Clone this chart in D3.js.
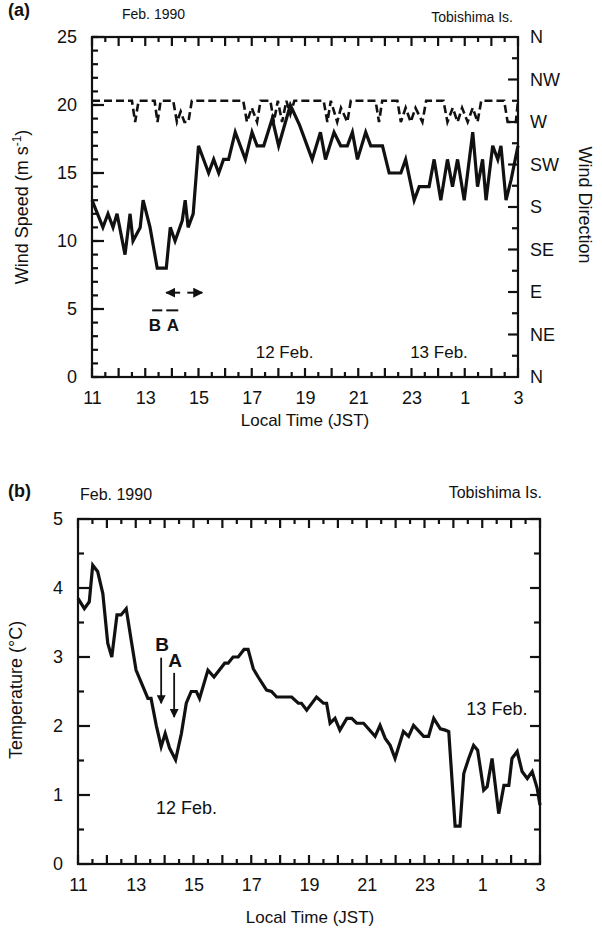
<!DOCTYPE html>
<meta charset="utf-8">

<!-- Load d3.js -->
<script src="https://d3js.org/d3.v7.min.js"></script>

<style>
  body { margin: 0; background: #fff; }
  svg text { font-family: "Liberation Sans", Arial, Helvetica, sans-serif; fill: #111; }
</style>

<div id="my_dataviz"></div>

<script>

    // ---- data (hours counted from 0 JST 12 Feb) ----

    // (a) wind speed, m/s
    var speedHours = [11.00, 11.41, 11.60, 11.79, 11.94, 12.24, 12.43, 12.54, 12.81, 12.92,
        13.18, 13.45, 13.79, 13.94, 14.12, 14.39, 14.50, 14.61, 14.80, 15.00,
        15.38, 15.57, 15.76, 15.94, 16.13, 16.38, 16.76, 17.01, 17.20, 17.45,
        17.77, 18.01, 18.45, 18.80, 19.27, 19.58, 19.77, 20.09, 20.34, 20.59,
        20.78, 20.97, 21.28, 21.47, 21.91, 22.16, 22.60, 22.78, 23.10, 23.29,
        23.66, 23.85, 24.10, 24.35, 24.54, 24.73, 24.98, 25.30, 25.48, 25.67,
        25.80, 26.05, 26.24, 26.36, 26.55, 26.74, 27.00]
    var speedValues = [13, 11, 12, 11, 12, 9, 12, 10, 11, 13,
        11, 8, 8, 11, 10, 11.5, 13, 11, 12, 17,
        15, 16, 15, 16, 16, 18, 16, 18, 17, 17,
        19, 17, 20, 18.5, 16, 18, 16, 18, 17, 17,
        18, 16, 18, 17, 17, 15, 15, 16, 13, 14,
        14, 16, 13, 16, 14, 16, 13, 18, 14, 16,
        13, 17, 16, 17, 13, 14.5, 17]

    // (a) wind direction, degrees (dashed line)
    var dirHours = [11.0, 12.5, 12.62, 12.75, 13.35, 13.46, 13.58, 14.05, 14.19, 14.33,
        14.47, 14.62, 14.75, 16.68, 16.82, 17.0, 17.2, 17.33, 17.7, 17.83,
        17.98, 18.14, 18.3, 18.45, 18.6, 19.7, 19.84, 19.97, 20.21, 20.35,
        20.59, 20.72, 21.65, 21.78, 21.9, 22.47, 22.6, 22.78, 22.97, 23.15,
        23.41, 23.55, 24.2, 24.35, 24.55, 24.73, 24.9, 25.11, 25.3, 25.48,
        25.62, 26.48, 26.61, 26.92, 27.0]
    var dirValues = [292.5, 292.5, 270, 292.5, 292.5, 270, 292.5, 292.5, 270, 281,
        270, 270, 292.5, 292.5, 270, 285, 270, 292.5, 292.5, 270,
        292.5, 270, 292.5, 278, 292.5, 292.5, 270, 292.5, 270, 285,
        270, 292.5, 292.5, 270, 292.5, 292.5, 270, 285, 270, 285,
        270, 292.5, 292.5, 270, 285, 270, 285, 270, 285, 270,
        292.5, 292.5, 270, 270, 292.5]

    // (b) air temperature, deg C
    var tempHours = [11.00, 11.22, 11.39, 11.51, 11.68, 11.86, 12.03, 12.17, 12.35, 12.49,
        12.67, 12.84, 13.01, 13.25, 13.42, 13.53, 13.71, 13.88, 14.02, 14.17,
        14.38, 14.58, 14.75, 14.92, 15.10, 15.21, 15.50, 15.71, 16.08, 16.20,
        16.37, 16.55, 16.75, 16.89, 17.07, 17.24, 17.53, 17.70, 17.88, 18.40,
        18.63, 18.74, 18.92, 19.26, 19.50, 19.61, 19.73, 19.90, 20.07, 20.31,
        20.48, 20.65, 20.89, 21.29, 21.46, 21.64, 21.81, 21.98, 22.27, 22.45,
        22.62, 22.97, 23.14, 23.32, 23.55, 23.72, 23.84, 24.06, 24.23, 24.36,
        24.53, 24.70, 24.84, 25.05, 25.17, 25.34, 25.57, 25.75, 25.92, 26.03,
        26.21, 26.38, 26.56, 26.73, 26.90, 27.00]
    var tempValues = [3.85, 3.70, 3.80, 4.33, 4.24, 3.92, 3.20, 3.00, 3.61, 3.61,
        3.70, 3.25, 2.81, 2.57, 2.40, 2.40, 2.01, 1.70, 1.89, 1.68,
        1.51, 1.89, 2.33, 2.50, 2.50, 2.40, 2.81, 2.71, 2.91, 2.91,
        3.00, 3.00, 3.11, 3.11, 2.83, 2.71, 2.52, 2.50, 2.42, 2.42,
        2.33, 2.33, 2.23, 2.42, 2.33, 2.33, 2.04, 2.11, 1.94, 2.11,
        2.11, 2.04, 2.04, 1.85, 2.01, 1.82, 1.72, 1.53, 1.92, 1.85,
        2.01, 1.85, 1.85, 2.11, 1.96, 1.94, 1.92, 0.55, 0.55, 1.31,
        1.53, 1.72, 1.65, 1.07, 1.12, 1.53, 0.73, 1.14, 1.14, 1.53,
        1.63, 1.34, 1.24, 1.34, 1.10, 0.85]

    // tick labels
    var hourTicks = [11, 13, 15, 17, 19, 21, 23, 25, 27]
    var speedTicks = [0, 5, 10, 15, 20, 25]
    var dirTicks = [0, 45, 90, 135, 180, 225, 270, 315, 360]
    var dirLabels = ["N", "NE", "E", "SE", "S", "SW", "W", "NW", "N"]
    var tempTicks = [0, 1, 2, 3, 4, 5]

    // ---- layout ----
    var W = 602, H = 929
    var boxA = { left: 92, right: 518, top: 37, bottom: 377 }
    var boxB = { left: 78, right: 540, top: 519, bottom: 864 }

    var svg = d3.select("#my_dataviz")
        .append("svg")
        .attr("width", W)
        .attr("height", H)

    // labels only come from d3 axes; the tick marks are drawn by hand (inward)
    function axisLabels(tx, ty, axis) {
        var g = svg.append("g")
            .attr("transform", "translate(" + tx + "," + ty + ")")
            .call(axis)
        g.select(".domain").remove()
        g.selectAll(".tick line").remove()
        g.selectAll(".tick text").attr("font-size", 18).attr("fill", "#111")
        return g
    }

    // side: "bottom" | "top" | "left" | "right"
    function tickMarks(box, side, scale, values, len) {
        var horiz = side == "bottom" || side == "top"
        var base = box[side]
        var dir = (side == "bottom" || side == "right") ? -1 : 1
        svg.append("g").selectAll("line")
            .data(values)
            .enter()
            .append("line")
            .attr("x1", function (d) { return horiz ? scale(d) : base })
            .attr("x2", function (d) { return horiz ? scale(d) : base + dir * len })
            .attr("y1", function (d) { return horiz ? base : scale(d) })
            .attr("y2", function (d) { return horiz ? base + dir * len : scale(d) })
            .attr("stroke", "#111")
            .attr("stroke-width", 2.2)
    }

    function frame(box, x, y, yMinor, yMajor, yFmt) {
        var hours = d3.range(11, 27.01, 1)
        var halves = d3.range(11.5, 27, 1)

        tickMarks(box, "bottom", x, halves, 5)
        tickMarks(box, "bottom", x, hours, 9)
        tickMarks(box, "top", x, halves, 5)
        tickMarks(box, "top", x, hours, 9)
        tickMarks(box, "left", y, yMinor, 6)
        tickMarks(box, "left", y, yMajor, 12)

        axisLabels(0, box.bottom, d3.axisBottom(x).tickValues(hourTicks).tickSize(0).tickPadding(14)
            .tickFormat(function (h) { return h % 24 }))
        axisLabels(box.left, 0, d3.axisLeft(y).tickValues(yMajor).tickSize(0).tickPadding(15).tickFormat(yFmt))

        svg.append("rect")
            .attr("x", box.left).attr("y", box.top)
            .attr("width", box.right - box.left).attr("height", box.bottom - box.top)
            .attr("fill", "none").attr("stroke", "#111").attr("stroke-width", 2.2)
    }

    function label(x, y, txt, size, opts) {
        opts = opts || {}
        var t = svg.append("text")
            .attr("x", x).attr("y", y)
            .attr("font-size", size)
            .attr("text-anchor", opts.anchor || "start")
            .attr("font-weight", opts.bold ? "bold" : "normal")
            .text(txt)
        if (opts.rotate) t.attr("transform", "rotate(" + opts.rotate + "," + x + "," + y + ")")
        return t
    }

    svg.append("defs").append("marker")
        .attr("id", "head").attr("viewBox", "0 0 10 10")
        .attr("refX", 9).attr("refY", 5)
        .attr("markerWidth", 5).attr("markerHeight", 5)
        .attr("orient", "auto-start-reverse")
        .append("path").attr("d", "M0,0 L10,5 L0,10 z").attr("fill", "#111")

    // ================= panel (a) =================
    var xA = d3.scaleLinear().domain([11, 27]).range([boxA.left, boxA.right])
    var yA = d3.scaleLinear().domain([0, 25]).range([boxA.bottom, boxA.top])
    var dA = d3.scaleLinear().domain([0, 360]).range([boxA.bottom, boxA.top])

    frame(boxA, xA, yA, d3.range(0, 25.01, 1), speedTicks, d3.format("d"))

    // right axis = wind direction
    tickMarks(boxA, "right", dA, d3.range(22.5, 360, 45), 6)
    tickMarks(boxA, "right", dA, dirTicks.slice(1, -1), 10)
    axisLabels(boxA.right, 0, d3.axisRight(dA).tickValues(dirTicks).tickSize(0).tickPadding(12)
        .tickFormat(function (d, i) { return dirLabels[i] }))

    // wind direction (dashed)
    svg.append("path")
        .datum(d3.zip(dirHours, dirValues))
        .attr("fill", "none")
        .attr("stroke", "#111")
        .attr("stroke-width", 2.6)
        .attr("stroke-dasharray", "8,4")
        .attr("d", d3.line().x(function (d) { return xA(d[0]) }).y(function (d) { return dA(d[1]) }))

    // wind speed (solid)
    svg.append("path")
        .datum(d3.zip(speedHours, speedValues))
        .attr("fill", "none")
        .attr("stroke", "#111")
        .attr("stroke-width", 3.2)
        .attr("d", d3.line().x(function (d) { return xA(d[0]) }).y(function (d) { return yA(d[1]) }))

    // B / A periods
    var markB = [13.26, 13.64], markA = [13.79, 14.24]
    ;[markB, markA].forEach(function (m) {
        svg.append("line")
            .attr("x1", xA(m[0])).attr("x2", xA(m[1]))
            .attr("y1", yA(4.9)).attr("y2", yA(4.9))
            .attr("stroke", "#111").attr("stroke-width", 2)
    })
    label(xA(13.36), yA(3.4), "B", 17, { anchor: "middle", bold: true })
    label(xA(14.04), yA(3.4), "A", 17, { anchor: "middle", bold: true })

    svg.append("line")
        .attr("x1", xA(14.31)).attr("x2", xA(13.79))
        .attr("y1", yA(6.2)).attr("y2", yA(6.2))
        .attr("stroke", "#111").attr("stroke-width", 2).attr("marker-end", "url(#head)")
    svg.append("line")
        .attr("x1", xA(14.58)).attr("x2", xA(15.14))
        .attr("y1", yA(6.2)).attr("y2", yA(6.2))
        .attr("stroke", "#111").attr("stroke-width", 2).attr("marker-end", "url(#head)")

    label(xA(17.15), yA(1.4), "12 Feb.", 17)
    label(xA(22.95), yA(1.4), "13 Feb.", 17)

    label(8, 16, "(a)", 18, { bold: true })
    label(122, 19, "Feb. 1990", 14)
    label(513, 22, "Tobishima Is.", 14, { anchor: "end" })
    label(305, 426, "Local Time (JST)", 17, { anchor: "middle" })

    var ws = label(28, 207, "Wind Speed (m s", 18, { anchor: "middle", rotate: -90 })
    ws.append("tspan").attr("font-size", 12).attr("dy", -7).text("-1")
    ws.append("tspan").attr("dy", 7).text(")")

    label(579, 205, "Wind Direction", 18, { anchor: "middle", rotate: 90 })

    // ================= panel (b) =================
    var xB = d3.scaleLinear().domain([11, 27]).range([boxB.left, boxB.right])
    var yB = d3.scaleLinear().domain([0, 5]).range([boxB.bottom, boxB.top])

    frame(boxB, xB, yB, d3.range(0.5, 5, 1), tempTicks, d3.format("d"))
    tickMarks(boxB, "right", yB, d3.range(0.5, 5, 1), 6)
    tickMarks(boxB, "right", yB, tempTicks, 10)

    svg.append("path")
        .datum(d3.zip(tempHours, tempValues))
        .attr("fill", "none")
        .attr("stroke", "#111")
        .attr("stroke-width", 3.2)
        .attr("d", d3.line().x(function (d) { return xB(d[0]) }).y(function (d) { return yB(d[1]) }))

    // B and A arrows
    var arrowsB = [
        { name: "B", hour: 13.88, from: 2.99, to: 2.33, text: 3.08 },
        { name: "A", hour: 14.33, from: 2.77, to: 2.13, text: 2.86 }
    ]
    arrowsB.forEach(function (a) {
        svg.append("line")
            .attr("x1", xB(a.hour)).attr("x2", xB(a.hour))
            .attr("y1", yB(a.from)).attr("y2", yB(a.to))
            .attr("stroke", "#111").attr("stroke-width", 1.8).attr("marker-end", "url(#head)")
        label(xB(a.hour) + 1, yB(a.text), a.name, 19, { anchor: "middle", bold: true })
    })

    label(xB(13.7), yB(0.73), "12 Feb.", 18)
    label(xB(24.45), yB(2.16), "13 Feb.", 18)

    label(8, 497, "(b)", 18, { bold: true })
    label(80, 500, "Feb. 1990", 16)
    label(542, 498, "Tobishima Is.", 16, { anchor: "end" })
    label(310, 923, "Local Time (JST)", 17, { anchor: "middle" })
    label(22, 690, "Temperature (°C)", 18, { anchor: "middle", rotate: -90 })

</script>
